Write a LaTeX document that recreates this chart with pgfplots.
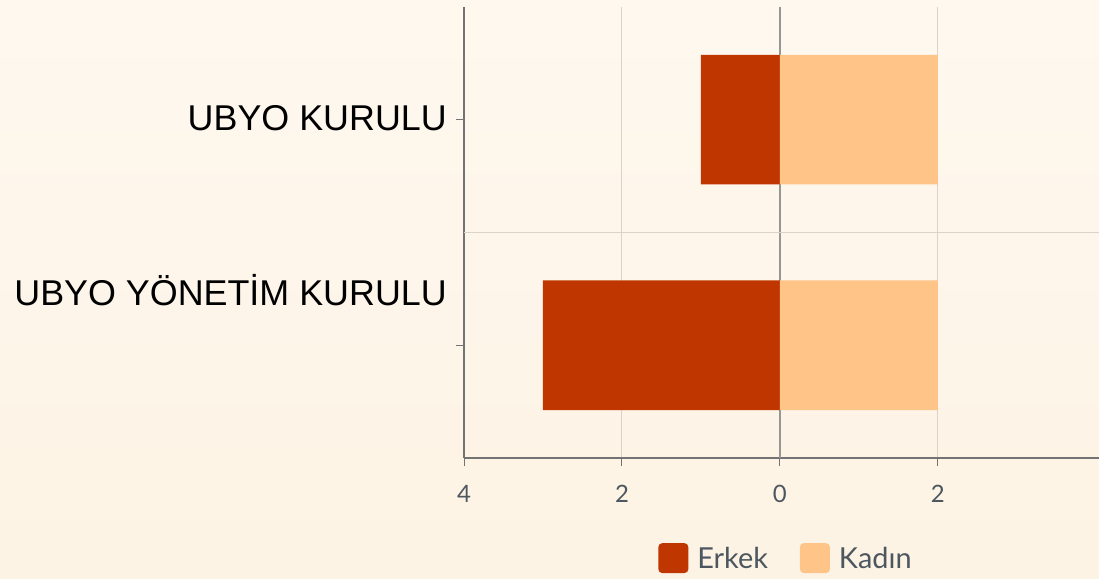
\documentclass[border=0pt]{standalone}
\usepackage{fontspec}
\setmainfont{Liberation Sans}
\newfontfamily\lato{Lato}
\usepackage{pgfplots}
\pgfplotsset{compat=1.18}
\definecolor{erk}{RGB}{191,54,0}
\definecolor{kad}{RGB}{255,196,135}
\definecolor{bgtop}{RGB}{254,248,239}
\definecolor{bgbot}{RGB}{253,243,228}
\definecolor{tickc}{RGB}{77,87,96}
\definecolor{axc}{RGB}{115,115,115}
\definecolor{gridc}{RGB}{218,211,201}
\definecolor{zeroc}{RGB}{150,150,150}
\pgfplotsset{mylegimg/.style={legend image code/.code={\fill[##1, rounded corners=4bp] (0bp,-15bp) rectangle (30bp,15bp); \path (37bp,0bp);}}}
\begin{document}
\begin{tikzpicture}
\shade[top color=bgtop, bottom color=bgbot] (0,0) rectangle (1099bp,579bp);
\begin{axis}[
  at={(464bp,121bp)}, anchor=south west,
  width=635bp, height=451bp, scale only axis,
  xmin=-4, xmax=4.04, ymin=-0.5, ymax=1.5,
  axis x line*=bottom, axis y line*=left,
  axis line style={axc, line width=1.2bp, -},
  xtick={-4,-2,0,2}, xticklabels={4,2,0,2},
  ytick={0,1}, yticklabels={},
  tick align=outside, major tick length=8bp,
  tick style={axc, line width=1bp},
  xmajorgrids, grid style={gridc, line width=1bp},
  extra x ticks={0}, extra x tick labels={},
  extra x tick style={grid style={zeroc, line width=1.2bp}},
  extra y ticks={0.5}, extra y tick labels={},
  extra y tick style={ymajorgrids=true, major tick length=0pt},
  ticklabel style={font=\lato\fontsize{24}{24}\selectfont, text=tickc},
  /pgf/number format/assume math mode=true,
  xticklabel style={yshift=-16bp},
  clip=false,
  legend style={at={(0.507,-0.222)}, anchor=center, draw=none, fill=none,
    legend columns=2, font=\lato\fontsize{29}{29}\selectfont, text=tickc,
    /tikz/every even column/.append style={column sep=30bp}},
]
\addplot[xbar, bar width=129.5bp, bar shift=0pt, fill=erk, draw=none, mylegimg] coordinates {(-1,1) (-3,0)};
\addlegendentry{Erkek}
\addplot[xbar, bar width=129.5bp, bar shift=0pt, fill=kad, draw=none, mylegimg] coordinates {(2,1) (2,0)};
\addlegendentry{Kadın}
\node[anchor=base east, xshift=-17bp, inner sep=0pt, font=\fontsize{36}{36}\selectfont] at (axis cs:-4,0.951) {UBYO KURULU};
\node[anchor=base east, xshift=-17bp, inner sep=0pt, font=\fontsize{36}{36}\selectfont] at (axis cs:-4,0.177) {UBYO YÖNETİM KURULU};
\end{axis}
\pgfresetboundingbox
\path (0,0) rectangle (1099bp,579bp);
\end{tikzpicture}
\end{document}
